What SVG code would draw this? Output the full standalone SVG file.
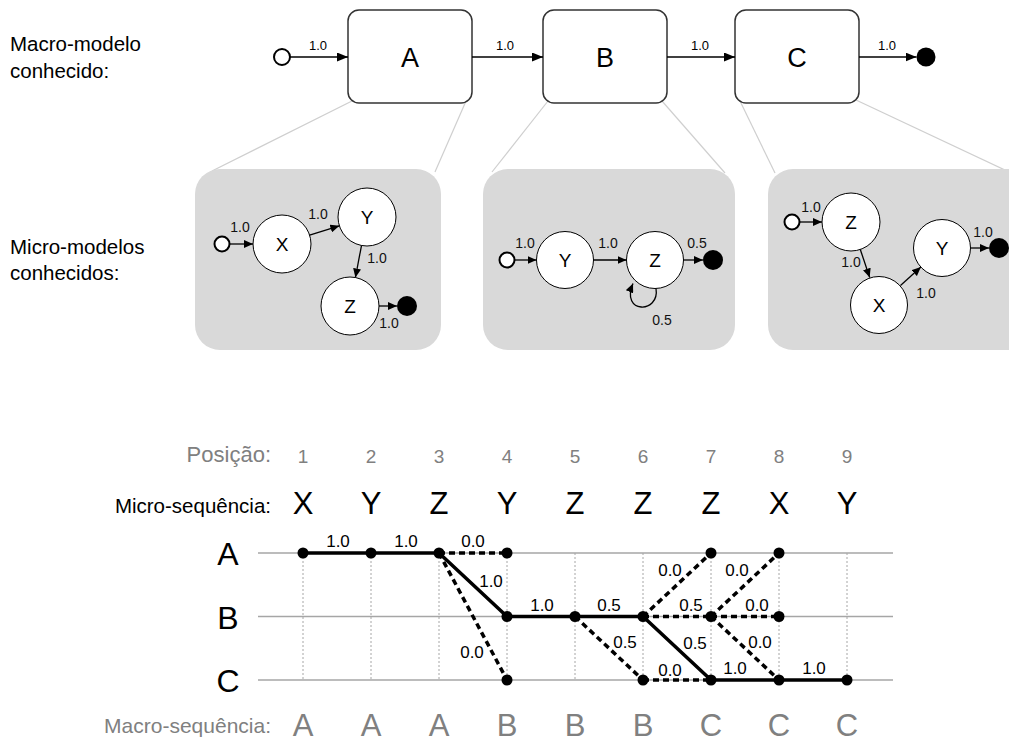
<svg xmlns="http://www.w3.org/2000/svg" width="1009" height="742" viewBox="0 0 1009 742">
  <style>
    text { font-family: "Liberation Sans", Arial, sans-serif; }
    .side { font-size: 20.5px; fill: #000; }
    .macro { fill: #fff; stroke: #333; stroke-width: 1.5; }
    .big { font-size: 27px; text-anchor: middle; }
    .lbl { font-size: 13px; text-anchor: middle; fill: #000; }
    .mlbl { font-size: 14px; text-anchor: middle; fill: #111; }
    .edge { stroke: #000; stroke-width: 1.3; fill: none; }
    .start { fill: #fff; stroke: #000; stroke-width: 2; }
    .end { fill: #000; }
    .panel { fill: #d9d9d9; }
    .zoomline { stroke: #cfcfcf; stroke-width: 1.2; }
    .state { fill: #fff; stroke: #000; stroke-width: 1; }
    .sl { font-size: 19px; text-anchor: middle; }
    .gray { fill: #808080; }
    .pos { font-size: 19px; text-anchor: middle; fill: #808080; }
    .seq { font-size: 31px; text-anchor: middle; fill: #000; }
    .mseq { font-size: 31px; text-anchor: middle; fill: #808080; }
    .row { font-size: 32px; text-anchor: middle; fill: #000; }
    .hline { stroke: #a6a6a6; stroke-width: 1.5; }
    .vline { stroke: #a6a6a6; stroke-width: 1; stroke-dasharray: 2 2; }
    .solid { stroke: #000; stroke-width: 3.5; fill: none; }
    .dash { stroke: #000; stroke-width: 3.5; fill: none; stroke-dasharray: 6 4; }
    .dot { fill: #000; }
    .tl { font-size: 17px; text-anchor: middle; fill: #000; }
  </style>
  <defs>
    <marker id="arr" markerUnits="userSpaceOnUse" markerWidth="11" markerHeight="9" refX="11" refY="4.5" orient="auto">
      <path d="M0,0 L11,4.5 L0,9 z" fill="#000"/>
    </marker>
    <marker id="arrs" markerUnits="userSpaceOnUse" markerWidth="9" markerHeight="8" refX="9" refY="4" orient="auto">
      <path d="M0,0 L9,4 L0,8 z" fill="#000"/>
    </marker>
  </defs>

  <!-- side captions -->
  <text class="side" x="10" y="51">Macro-modelo</text>
  <text class="side" x="10" y="78">conhecido:</text>
  <text class="side" x="10" y="254">Micro-modelos</text>
  <text class="side" x="10" y="280">conhecidos:</text>

  <!-- lines linking each macro state to its micro-model -->
  <g id="zoom-lines">
    <line class="zoomline" x1="352" y1="101" x2="212" y2="171"/>
    <line class="zoomline" x1="466" y1="101" x2="435" y2="172"/>
    <line class="zoomline" x1="548" y1="101" x2="492" y2="172"/>
    <line class="zoomline" x1="662" y1="101" x2="725" y2="173"/>
    <line class="zoomline" x1="740" y1="101" x2="775" y2="173"/>
    <line class="zoomline" x1="856" y1="100" x2="1009" y2="172"/>
  </g>

  <!-- macro model -->
  <g id="macro-start"><circle class="start" cx="282" cy="57" r="8"/></g>
  <g id="macro-A"><rect class="macro" x="348" y="10" width="124" height="93" rx="11"/><text class="big" x="410" y="67">A</text></g>
  <g id="macro-B"><rect class="macro" x="543" y="10" width="124" height="93" rx="11"/><text class="big" x="605" y="67">B</text></g>
  <g id="macro-C"><rect class="macro" x="735" y="10" width="124" height="93" rx="11"/><text class="big" x="797" y="67">C</text></g>
  <g id="macro-end"><circle class="end" cx="926" cy="57" r="9.5"/></g>
  <g id="macro-edges">
    <line class="edge" x1="290" y1="57" x2="348" y2="57" marker-end="url(#arr)"/>
    <line class="edge" x1="472" y1="57" x2="543" y2="57" marker-end="url(#arr)"/>
    <line class="edge" x1="667" y1="57" x2="735" y2="57" marker-end="url(#arr)"/>
    <line class="edge" x1="859" y1="57" x2="916.5" y2="57" marker-end="url(#arr)"/>
    <text class="lbl" x="318" y="50">1.0</text>
    <text class="lbl" x="505" y="50">1.0</text>
    <text class="lbl" x="700" y="50">1.0</text>
    <text class="lbl" x="887" y="50">1.0</text>
  </g>

  <!-- micro model of A -->
  <g id="panel-A">
    <rect class="panel" x="195" y="169" width="246" height="181" rx="25"/>
    <g id="a-start"><circle class="start" cx="222" cy="244" r="7.5"/></g>
    <g id="a-X"><circle class="state" cx="282" cy="244" r="29"/><text class="sl" x="282" y="251">X</text></g>
    <g id="a-Y"><circle class="state" cx="367" cy="217" r="29"/><text class="sl" x="367" y="224">Y</text></g>
    <g id="a-Z"><circle class="state" cx="350" cy="306" r="29"/><text class="sl" x="350" y="313">Z</text></g>
    <g id="a-end"><circle class="end" cx="407" cy="306" r="10"/></g>
    <g id="a-edges">
      <line class="edge" x1="230" y1="244" x2="253" y2="244" marker-end="url(#arrs)"/>
      <line class="edge" x1="309.6" y1="235.2" x2="339.4" y2="225.8" marker-end="url(#arrs)"/>
      <line class="edge" x1="361.5" y1="245.5" x2="355.4" y2="277.5" marker-end="url(#arrs)"/>
      <line class="edge" x1="379" y1="306" x2="397" y2="306" marker-end="url(#arrs)"/>
      <text class="mlbl" x="240" y="232">1.0</text>
      <text class="mlbl" x="318" y="219">1.0</text>
      <text class="mlbl" x="377" y="263">1.0</text>
      <text class="mlbl" x="389" y="328">1.0</text>
    </g>
  </g>

  <!-- micro model of B -->
  <g id="panel-B">
    <rect class="panel" x="483" y="169" width="252" height="181" rx="25"/>
    <g id="b-start"><circle class="start" cx="507" cy="260" r="7.5"/></g>
    <g id="b-Y"><circle class="state" cx="565" cy="260" r="28.5"/><text class="sl" x="565" y="267">Y</text></g>
    <g id="b-Z"><circle class="state" cx="655" cy="260" r="28.5"/><text class="sl" x="655" y="267">Z</text></g>
    <g id="b-end"><circle class="end" cx="713" cy="260" r="10"/></g>
    <g id="b-edges">
      <line class="edge" x1="515" y1="260" x2="536.5" y2="260" marker-end="url(#arrs)"/>
      <line class="edge" x1="593.5" y1="260" x2="626.5" y2="260" marker-end="url(#arrs)"/>
      <line class="edge" x1="683.5" y1="260" x2="703" y2="260" marker-end="url(#arrs)"/>
      <path class="edge" d="M656,288.5 C660,314 620,314 633,283.5" marker-end="url(#arrs)"/>
      <text class="mlbl" x="525" y="248">1.0</text>
      <text class="mlbl" x="608" y="248">1.0</text>
      <text class="mlbl" x="697" y="248">0.5</text>
      <text class="mlbl" x="662" y="325">0.5</text>
    </g>
  </g>

  <!-- micro model of C -->
  <g id="panel-C">
    <rect class="panel" x="768" y="169" width="266" height="181" rx="25"/>
    <g id="c-start"><circle class="start" cx="792" cy="222" r="7.5"/></g>
    <g id="c-Z"><circle class="state" cx="851" cy="222" r="29"/><text class="sl" x="851" y="229">Z</text></g>
    <g id="c-X"><circle class="state" cx="879" cy="305" r="28.5"/><text class="sl" x="879" y="312">X</text></g>
    <g id="c-Y"><circle class="state" cx="942" cy="248" r="28.5"/><text class="sl" x="942" y="255">Y</text></g>
    <g id="c-end"><circle class="end" cx="999" cy="248" r="10"/></g>
    <g id="c-edges">
      <line class="edge" x1="800" y1="222" x2="822" y2="222" marker-end="url(#arrs)"/>
      <line class="edge" x1="860.3" y1="249.5" x2="869.7" y2="277.5" marker-end="url(#arrs)"/>
      <line class="edge" x1="900.5" y1="285.5" x2="920.9" y2="267.1" marker-end="url(#arrs)"/>
      <line class="edge" x1="970.5" y1="248" x2="989" y2="248" marker-end="url(#arrs)"/>
      <text class="mlbl" x="811" y="212">1.0</text>
      <text class="mlbl" x="851" y="267">1.0</text>
      <text class="mlbl" x="926" y="298">1.0</text>
      <text class="mlbl" x="983" y="237">1.0</text>
    </g>
  </g>

  <!-- sequence headers -->
  <g id="positions">
    <text class="gray" x="271" y="462" font-size="22" text-anchor="end">Posição:</text>
    <text class="pos" x="303" y="463">1</text>
    <text class="pos" x="371" y="463">2</text>
    <text class="pos" x="439" y="463">3</text>
    <text class="pos" x="507" y="463">4</text>
    <text class="pos" x="575" y="463">5</text>
    <text class="pos" x="643" y="463">6</text>
    <text class="pos" x="711" y="463">7</text>
    <text class="pos" x="779" y="463">8</text>
    <text class="pos" x="847" y="463">9</text>
  </g>
  <g id="micro-sequence">
    <text x="271" y="513" font-size="20.5" text-anchor="end">Micro-sequência:</text>
    <text class="seq" x="303" y="514">X</text>
    <text class="seq" x="371" y="514">Y</text>
    <text class="seq" x="439" y="514">Z</text>
    <text class="seq" x="507" y="514">Y</text>
    <text class="seq" x="575" y="514">Z</text>
    <text class="seq" x="643" y="514">Z</text>
    <text class="seq" x="711" y="514">Z</text>
    <text class="seq" x="779" y="514">X</text>
    <text class="seq" x="847" y="514">Y</text>
  </g>

  <!-- trellis grid -->
  <g id="grid">
    <line class="hline" x1="258" y1="553" x2="893" y2="553"/>
    <line class="hline" x1="258" y1="616.5" x2="893" y2="616.5"/>
    <line class="hline" x1="258" y1="680" x2="893" y2="680"/>
    <line class="vline" x1="303" y1="553" x2="303" y2="680"/>
    <line class="vline" x1="371" y1="553" x2="371" y2="680"/>
    <line class="vline" x1="439" y1="553" x2="439" y2="680"/>
    <line class="vline" x1="507" y1="553" x2="507" y2="680"/>
    <line class="vline" x1="575" y1="553" x2="575" y2="680"/>
    <line class="vline" x1="643" y1="553" x2="643" y2="680"/>
    <line class="vline" x1="711" y1="553" x2="711" y2="680"/>
    <line class="vline" x1="779" y1="553" x2="779" y2="680"/>
    <line class="vline" x1="847" y1="553" x2="847" y2="680"/>
  </g>
  <g id="rows">
    <text class="row" x="228" y="565">A</text>
    <text class="row" x="228" y="629">B</text>
    <text class="row" x="228" y="692">C</text>
  </g>

  <!-- trellis transitions -->
  <g id="connectors">
    <polyline class="solid" points="303,553 371,553 439,553 507,616.5 575,616.5 643,616.5 711,680 779,680 847,680"/>
    <line class="dash" x1="439" y1="553" x2="507" y2="553"/>
    <line class="dash" x1="439" y1="553" x2="507" y2="680"/>
    <line class="dash" x1="575" y1="616.5" x2="643" y2="680"/>
    <line class="dash" x1="643" y1="616.5" x2="711" y2="553"/>
    <line class="dash" x1="643" y1="616.5" x2="711" y2="616.5"/>
    <line class="dash" x1="643" y1="680" x2="711" y2="680"/>
    <line class="dash" x1="711" y1="616.5" x2="779" y2="553"/>
    <line class="dash" x1="711" y1="616.5" x2="779" y2="616.5"/>
    <line class="dash" x1="711" y1="616.5" x2="779" y2="680"/>

    <text class="tl" x="338" y="547">1.0</text>
    <text class="tl" x="406" y="547">1.0</text>
    <text class="tl" x="473" y="547">0.0</text>
    <text class="tl" x="491" y="587">1.0</text>
    <text class="tl" x="472" y="658">0.0</text>
    <text class="tl" x="542" y="611">1.0</text>
    <text class="tl" x="609" y="611">0.5</text>
    <text class="tl" x="625" y="648">0.5</text>
    <text class="tl" x="670" y="576">0.0</text>
    <text class="tl" x="691" y="611">0.5</text>
    <text class="tl" x="695" y="649">0.5</text>
    <text class="tl" x="670" y="676">0.0</text>
    <text class="tl" x="737" y="576">0.0</text>
    <text class="tl" x="757" y="611">0.0</text>
    <text class="tl" x="760" y="648">0.0</text>
    <text class="tl" x="735" y="674">1.0</text>
    <text class="tl" x="814" y="674">1.0</text>
  </g>

  <!-- trellis states -->
  <g id="dots">
    <circle class="dot" cx="303" cy="553" r="5.5"/>
    <circle class="dot" cx="371" cy="553" r="5.5"/>
    <circle class="dot" cx="439" cy="553" r="5.5"/>
    <circle class="dot" cx="507" cy="553" r="5.5"/>
    <circle class="dot" cx="507" cy="616.5" r="5.5"/>
    <circle class="dot" cx="507" cy="680" r="5.5"/>
    <circle class="dot" cx="575" cy="616.5" r="5.5"/>
    <circle class="dot" cx="643" cy="616.5" r="5.5"/>
    <circle class="dot" cx="643" cy="680" r="5.5"/>
    <circle class="dot" cx="711" cy="553" r="5.5"/>
    <circle class="dot" cx="711" cy="616.5" r="5.5"/>
    <circle class="dot" cx="711" cy="680" r="5.5"/>
    <circle class="dot" cx="779" cy="553" r="5.5"/>
    <circle class="dot" cx="779" cy="616.5" r="5.5"/>
    <circle class="dot" cx="779" cy="680" r="5.5"/>
    <circle class="dot" cx="847" cy="680" r="5.5"/>
  </g>

  <g id="macro-sequence">
    <text class="gray" x="271" y="733" font-size="21" text-anchor="end">Macro-sequência:</text>
    <text class="mseq" x="303" y="736">A</text>
    <text class="mseq" x="371" y="736">A</text>
    <text class="mseq" x="439" y="736">A</text>
    <text class="mseq" x="507" y="736">B</text>
    <text class="mseq" x="575" y="736">B</text>
    <text class="mseq" x="643" y="736">B</text>
    <text class="mseq" x="711" y="736">C</text>
    <text class="mseq" x="779" y="736">C</text>
    <text class="mseq" x="847" y="736">C</text>
  </g>
</svg>
